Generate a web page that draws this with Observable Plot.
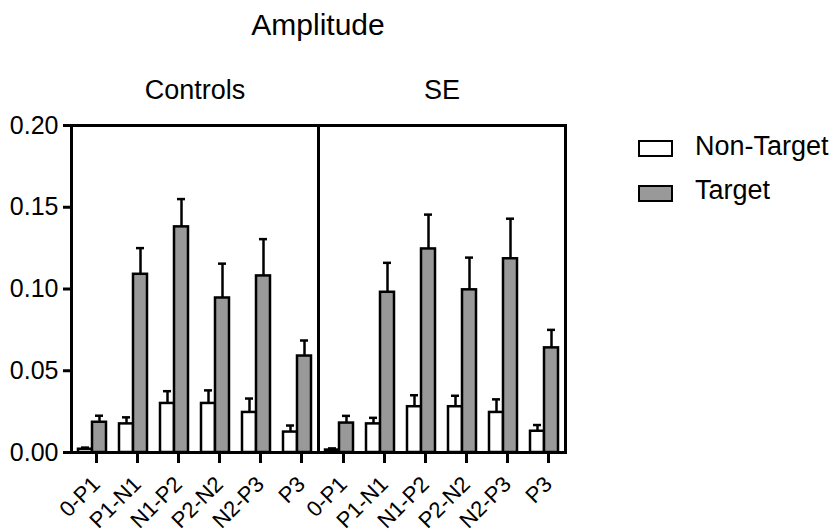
<!DOCTYPE html>
<html>
<head>
<meta charset="utf-8">
<script src="https://cdn.jsdelivr.net/npm/d3@7"></script>
<script src="https://cdn.jsdelivr.net/npm/@observablehq/plot@0.6"></script>
<style>
  body { margin: 0; background: white; }
  #wrap { position: relative; width: 833px; height: 532px; font-family: "Liberation Sans", Arial, Helvetica, sans-serif; color: black; }
  #wrap svg { position: absolute; left: 0; top: 0; }
  .title { position: absolute; left: 218px; width: 200px; text-align: center; top: 7px; font-size: 30px; line-height: 36px; }
  .lg-box { position: absolute; left: 638px; width: 31px; height: 13px; border: 2px solid black; }
  .lg-text { position: absolute; left: 695px; font-size: 27px; line-height: 30px; white-space: nowrap; }
</style>
</head>
<body>
<div id="wrap">
  <div class="title">Amplitude</div>
</div>
<script>
// ---- data ----
const groups = ["Controls", "SE"];
const phases = ["0-P1", "P1-N1", "N1-P2", "P2-N2", "N2-P3", "P3"];
const conditions = ["Non-Target", "Target"];
const conditionFills = ["white", "#999999"];
const yTicks = [0, 0.05, 0.10, 0.15, 0.20];

const controlsNonTarget    = [0.002, 0.0175, 0.0300, 0.0300, 0.0245, 0.0125];
const controlsNonTargetErr = [0.001, 0.0040, 0.0075, 0.0080, 0.0085, 0.0040];
const controlsTarget       = [0.0185, 0.109, 0.138, 0.0945, 0.108, 0.059];
const controlsTargetErr    = [0.0040, 0.016, 0.017, 0.0210, 0.0225, 0.0095];
const seNonTarget          = [0.0015, 0.0175, 0.0280, 0.0280, 0.0245, 0.0130];
const seNonTargetErr       = [0.0010, 0.0037, 0.0070, 0.0067, 0.0080, 0.0038];
const seTarget             = [0.0180, 0.098, 0.1245, 0.0995, 0.1185, 0.064];
const seTargetErr          = [0.0044, 0.018, 0.0210, 0.0197, 0.0245, 0.011];

// ---- build table ----
const series = {
  "Controls": {"Non-Target": [controlsNonTarget, controlsNonTargetErr], "Target": [controlsTarget, controlsTargetErr]},
  "SE": {"Non-Target": [seNonTarget, seNonTargetErr], "Target": [seTarget, seTargetErr]}
};
const rows = [];
for (const g of groups) for (const c of conditions) phases.forEach((p, i) => {
  rows.push({group: g, condition: c, phase: p, value: series[g][c][0][i], err: series[g][c][1][i]});
});
const nt = rows.filter(d => d.condition === "Non-Target");
const tg = rows.filter(d => d.condition === "Target");

const HALF = 14; // half of band width in px
const common = {fx: "group", x: "phase"};

const chart = Plot.plot({
  width: 833,
  height: 532,
  marginTop: 125,
  marginBottom: 80,
  marginLeft: 71,
  marginRight: 268,
  style: {fontFamily: "Liberation Sans, Arial, Helvetica, sans-serif", color: "black", background: "transparent", overflow: "visible"},
  fx: {domain: groups, padding: 0, axis: null},
  x: {domain: phases, paddingInner: 0.32, paddingOuter: 0.16, axis: null},
  y: {domain: [0, 0.2], axis: null},
  marks: [
    Plot.barY(nt, {...common, y: "value", fill: conditionFills[0], stroke: "black", strokeWidth: 2.5, insetRight: HALF}),
    Plot.barY(tg, {...common, y: "value", fill: conditionFills[1], stroke: "black", strokeWidth: 2.5, insetLeft: HALF}),
    Plot.ruleX(nt, {...common, y1: "value", y2: d => d.value + d.err, dx: -HALF / 2, stroke: "black", strokeWidth: 2.5}),
    Plot.ruleX(tg, {...common, y1: "value", y2: d => d.value + d.err, dx: HALF / 2, stroke: "black", strokeWidth: 2.5}),
    Plot.tickY(nt, {...common, y: d => d.value + d.err, dx: -HALF / 2, insetLeft: 10, insetRight: 10, stroke: "black", strokeWidth: 2.5}),
    Plot.tickY(tg, {...common, y: d => d.value + d.err, dx: HALF / 2, insetLeft: 10, insetRight: 10, stroke: "black", strokeWidth: 2.5}),
    Plot.frame({stroke: "black", strokeWidth: 3}),
    Plot.axisY({ticks: yTicks, tickFormat: d3.format(".2f"), tickSize: 8, tickPadding: 5, fontSize: 25, strokeWidth: 3, label: null}),
    Plot.axisX({tickRotate: -45, tickSize: 11, tickPadding: 17, dx: 4, fontSize: 22, strokeWidth: 3, label: null}),
    Plot.text(groups, {fx: d => d, text: d => d, frameAnchor: "top", dy: -27, lineAnchor: "bottom", fontSize: 27})
  ]
});
const wrap = document.getElementById("wrap");
wrap.insertBefore(chart, wrap.firstChild);

// legend
conditions.forEach((c, i) => {
  const box = document.createElement("div");
  box.className = "lg-box";
  box.style.top = (140 + i * 45) + "px";
  box.style.background = conditionFills[i];
  wrap.appendChild(box);
  const t = document.createElement("div");
  t.className = "lg-text";
  t.style.top = (131 + i * 44) + "px";
  t.textContent = c;
  wrap.appendChild(t);
});
</script>
</body>
</html>
